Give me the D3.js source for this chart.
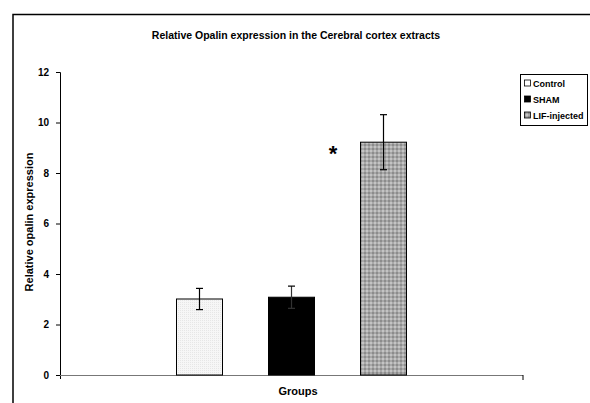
<!DOCTYPE html>
<html><head><meta charset="utf-8">
<script src="https://cdn.jsdelivr.net/npm/d3@7"></script>
<style>body{margin:0;background:#fff}svg{display:block;font-family:"Liberation Sans",Arial,sans-serif;font-weight:bold}</style>
</head><body>
<script>
const categories = ["Control", "SHAM", "LIF-injected"];
const means = [3.01, 3.08, 9.22];
const errors = [0.42, 0.44, 1.09];
const yTicks = [0, 2, 4, 6, 8, 10, 12];
const title = "Relative Opalin expression in the Cerebral cortex extracts";
const yLabel = "Relative opalin expression";
const xLabel = "Groups";

const W = 590, H = 403;
const svg = d3.select("body").append("svg").attr("width", W).attr("height", H);
const defs = svg.append("defs");
const p1 = defs.append("pattern").attr("id","pCtrl").attr("width",2).attr("height",2).attr("patternUnits","userSpaceOnUse");
p1.append("rect").attr("width",2).attr("height",2).attr("fill","#f6f6f6");
p1.append("rect").attr("width",1).attr("height",1).attr("fill","#e6e6e6");
const p3 = defs.append("pattern").attr("id","pLif").attr("width",4).attr("height",4).attr("patternUnits","userSpaceOnUse");
p3.append("rect").attr("width",4).attr("height",4).attr("fill","#a8a8a8");
p3.append("rect").attr("width",2).attr("height",2).attr("fill","#8c8c8c");
p3.append("rect").attr("x",2).attr("y",2).attr("width",2).attr("height",2).attr("fill","#c4c4c4");
const fills = ["url(#pCtrl)", "#000", "url(#pLif)"];

svg.append("path").attr("d", `M13,${H+2} V14.5 H${W+2}`).attr("fill","none").attr("stroke","#000").attr("stroke-width",1.5);

svg.append("text").attr("x", 296).attr("y", 39).attr("text-anchor","middle").attr("font-size", 10.5).text(title);

const y = d3.scaleLinear().domain([0, 12]).range([375, 72]);
const x = d3.scaleBand().domain(categories).range([176, 406]).paddingInner(0.5).paddingOuter(0);

const ya = svg.append("g").attr("transform","translate(60,0)")
  .call(d3.axisLeft(y).tickValues(yTicks).tickSize(4).tickPadding(7).tickFormat(d3.format("d")));
ya.select(".domain").attr("stroke","#000").attr("d", `M-4,72.5 H0.5 V379`);
ya.selectAll(".tick line").attr("stroke","#000");
ya.selectAll(".tick text").attr("font-size",10).attr("font-weight","bold").attr("font-family","Liberation Sans, Arial, sans-serif").attr("fill","#000");

svg.append("line").attr("x1",60).attr("x2",523).attr("y1",375.5).attr("y2",375.5).attr("stroke","#777").attr("stroke-width",1.2);
svg.append("line").attr("x1",523).attr("x2",523).attr("y1",375).attr("y2",380).attr("stroke","#000");

svg.selectAll("rect.bar").data(categories).enter().append("rect").attr("class","bar")
  .attr("x", d => x(d) + 0.5).attr("y", (d,i) => y(means[i]))
  .attr("width", x.bandwidth()).attr("height", (d,i) => y(0) - y(means[i]))
  .attr("fill", (d,i) => fills[i]).attr("stroke","#000").attr("stroke-width",1);

const eb = svg.selectAll("g.err").data(categories).enter().append("g").attr("class","err");
eb.append("line").attr("x1", d => x(d)+x.bandwidth()/2+0.5).attr("x2", d => x(d)+x.bandwidth()/2+0.5)
  .attr("y1",(d,i)=>y(means[i]+errors[i])).attr("y2",(d,i)=>y(means[i]-errors[i]))
  .attr("stroke",(d,i)=> i===1 ? "#333" : "#000").attr("stroke-width",1.2);
[1,-1].forEach(s => {
  eb.append("line").attr("x1", d => x(d)+x.bandwidth()/2-3).attr("x2", d => x(d)+x.bandwidth()/2+4)
    .attr("y1",(d,i)=>y(means[i]+s*errors[i])).attr("y2",(d,i)=>y(means[i]+s*errors[i]))
    .attr("stroke",(d,i)=> (i===1 && s<0) ? "#333" : "#000").attr("stroke-width",1.2);
});

svg.append("text").attr("x", 333).attr("y", 161).attr("text-anchor","middle").attr("font-size", 22).attr("font-weight","bold").text("*");

svg.append("text").attr("transform","translate(33,222) rotate(-90)").attr("text-anchor","middle").attr("font-size",11).text(yLabel);
svg.append("text").attr("x", 298).attr("y", 395).attr("text-anchor","middle").attr("font-size",11).text(xLabel);

const lg = svg.append("g");
lg.append("rect").attr("x",520.5).attr("y",74.5).attr("width",67).attr("height",51).attr("fill","#fff").attr("stroke","#000");
const lfills = ["#fff", "#000", "url(#pLif)"];
categories.forEach((c,i) => {
  const yy = 83.5 + i*16;
  lg.append("rect").attr("x",524.5).attr("y",yy-3.5).attr("width",6).attr("height",6).attr("fill",lfills[i]).attr("stroke","#000").attr("stroke-width",0.8);
  lg.append("text").attr("x",533).attr("y",yy+3).attr("font-size",9).text(c);
});
</script>
</body></html>
